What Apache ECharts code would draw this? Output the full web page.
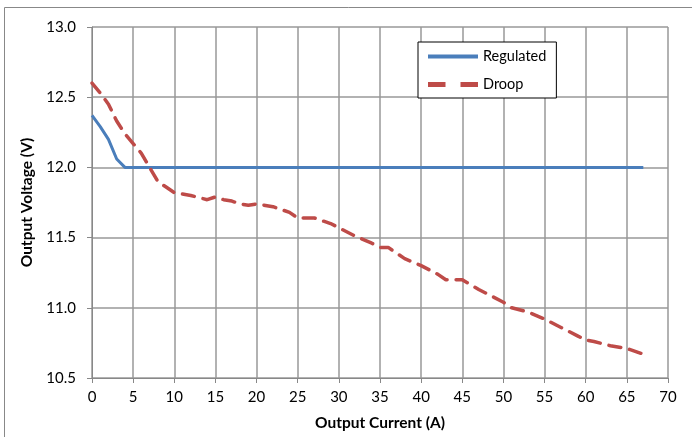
<!DOCTYPE html>
<html><head><meta charset="utf-8">
<script src="https://cdn.jsdelivr.net/npm/echarts@6/dist/echarts.min.js"></script>
<style>html,body{margin:0;padding:0;background:#fff}#c{width:692px;height:437px}</style>
</head><body><div id="c"></div>
<script>
const regulatedX = [0, 1, 2, 3, 4, 5, 10, 15, 20, 25, 30, 35, 40, 45, 50, 55, 60, 65, 67];
const regulatedY = [12.37, 12.29, 12.2, 12.06, 12.0, 12.0, 12.0, 12.0, 12.0, 12.0, 12.0, 12.0, 12.0, 12.0, 12.0, 12.0, 12.0, 12.0, 12.0];
const droopX = [0, 1, 2, 3, 4, 5, 6, 7, 8, 9, 10, 12, 14, 15, 16, 17, 18, 19, 20, 22, 24, 25, 27, 28, 29, 30, 32, 34, 35, 36, 38, 40, 42, 43, 45, 47, 48, 50, 51, 53, 55, 57, 59, 60, 61, 63, 65, 67];
const droopY = [12.6, 12.53, 12.45, 12.33, 12.24, 12.17, 12.1, 12.0, 11.9, 11.86, 11.82, 11.8, 11.77, 11.79, 11.77, 11.76, 11.74, 11.73, 11.74, 11.72, 11.68, 11.64, 11.64, 11.62, 11.6, 11.57, 11.51, 11.46, 11.43, 11.43, 11.35, 11.3, 11.24, 11.2, 11.2, 11.13, 11.1, 11.04, 11.0, 10.97, 10.92, 10.86, 10.8, 10.77, 10.76, 10.73, 10.71, 10.67];
const seriesNames = ['Regulated', 'Droop'];
const xTitle = 'Output Current (A)';
const yTitle = 'Output Voltage (V)';

const font = 'Lato, "Open Sans", sans-serif';
const chart = echarts.init(document.getElementById('c'));
chart.setOption({
  animation: false,
  grid: {left: 92, right: 24, top: 27, bottom: 59},
  xAxis: {
    type: 'value', min: 0, max: 70, interval: 5,
    name: xTitle, nameLocation: 'middle', nameGap: 37,
    nameTextStyle: {fontFamily: font, fontWeight: 'bold', fontSize: 15.5, color: '#000'},
    axisLine: {lineStyle: {color: '#888', width: 1}},
    axisTick: {show: true, length: 5, inside: false, lineStyle: {color: '#888'}},
    axisLabel: {fontFamily: font, fontSize: 15, color: '#000', margin: 12},
    splitLine: {show: true, lineStyle: {color: '#999', width: 1.5}}
  },
  yAxis: {
    type: 'value', min: 10.5, max: 13.0, interval: 0.5,
    name: yTitle, nameLocation: 'middle', nameGap: 56, nameRotate: 90,
    nameTextStyle: {fontFamily: font, fontWeight: 'bold', fontSize: 15.5, color: '#000'},
    axisLine: {show: true, lineStyle: {color: '#888', width: 1}},
    axisTick: {show: true, length: 5, lineStyle: {color: '#888'}},
    axisLabel: {fontFamily: font, fontSize: 15, color: '#000', margin: 16, formatter: v => v.toFixed(1)},
    splitLine: {show: true, lineStyle: {color: '#999', width: 1.5}}
  },
  legend: {
    left: 418, top: 42, width: 136, height: 57, orient: 'vertical',
    padding: [7, 10, 6, 10], itemGap: 13,
    borderColor: '#000', borderWidth: 1, backgroundColor: '#fff',
    itemWidth: 50, itemHeight: 16, 
    textStyle: {fontFamily: font, fontSize: 14.5, color: '#000'},
    data: [
      {name: seriesNames[0], icon: 'path://M0,0 L50,0 L50,4 L0,4 Z'},
      {name: seriesNames[1], icon: 'path://M0,0 L14,0 L14,4 L0,4 Z M26,0 L40,0 L40,4 L26,4 Z'}
    ]
  },
  graphic: [{type: 'rect', shape: {x: 4.5, y: 7.5, width: 800, height: 800}, style: {fill: 'none', stroke: '#888', lineWidth: 1}, silent: true}],
  series: [
    {name: seriesNames[0], type: 'line', showSymbol: false, color: '#4a7ebb',
     lineStyle: {width: 3, color: '#4a7ebb'},
     data: regulatedX.map((x, i) => [x, regulatedY[i]])},
    {name: seriesNames[1], type: 'line', showSymbol: false, color: '#be4b48',
     lineStyle: {width: 3.5, color: '#be4b48', type: [12, 9], cap: 'round'},
     data: droopX.map((x, i) => [x, droopY[i]])}
  ]
});
</script></body></html>
